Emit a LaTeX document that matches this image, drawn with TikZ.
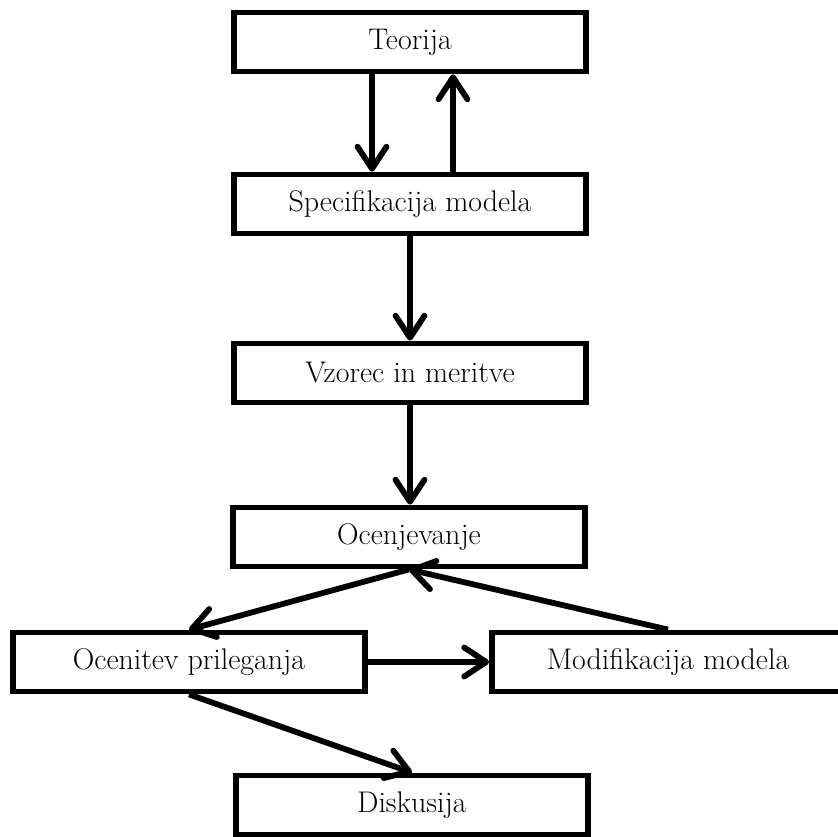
\documentclass[tikz,border=0pt]{standalone}
\usepackage{tikz}
\usetikzlibrary{arrows.meta}
\usetikzlibrary{positioning}

\begin{document}
\begin{tikzpicture}[
    stepbox/.style = {
      draw, line width = 3.3pt,
      minimum width = 7.04cm, minimum height = 1.18cm,
      inner sep = 0, fill = white,
    },
    flow/.style = {
      line width = 3.3pt,
      -{Straight Barb[length=4.4mm, width=5.8mm, round]},
    },
    every node/.style = {
      font = \fontsize{17}{20}\selectfont,
    }
  ]
  \useasboundingbox (0,0) rectangle (16.76,-16.74);
  % column of steps
  \node[stepbox] (teorija)   at (8.2,-0.84)   {Teorija};
  \node[stepbox] (spec)      at (8.2,-4.08)   {Specifikacija modela};
  \node[stepbox] (vzorec)    at (8.2,-7.46)   {Vzorec in meritve};
  \node[stepbox] (ocen)      at (8.18,-10.74) {Ocenjevanje};
  \node[stepbox] (ocenitev)  at (3.78,-13.24) {Ocenitev prileganja};
  \node[stepbox] (modif)     at (13.36,-13.24) {Modifikacija modela};
  \node[stepbox] (diskusija) at (8.24,-16.1)  {Diskusija};
  % connectors
  \draw[flow] ([xshift=-0.76cm]teorija.south) -- ([xshift=-0.76cm]spec.north);
  \draw[flow] ([xshift=0.86cm]spec.north) -- ([xshift=0.86cm]teorija.south);
  \draw[flow] (spec) -- (vzorec);
  \draw[flow] (vzorec.south) -- (vzorec.south |- ocen.north);
  \draw[flow] (ocen.south) -- (ocenitev.north);
  \draw[flow] (modif.north) -- (ocen.south);
  \draw[flow] (ocenitev) -- (modif);
  \draw[flow] (ocenitev.south) -- (diskusija.north);
\end{tikzpicture}
\end{document}
